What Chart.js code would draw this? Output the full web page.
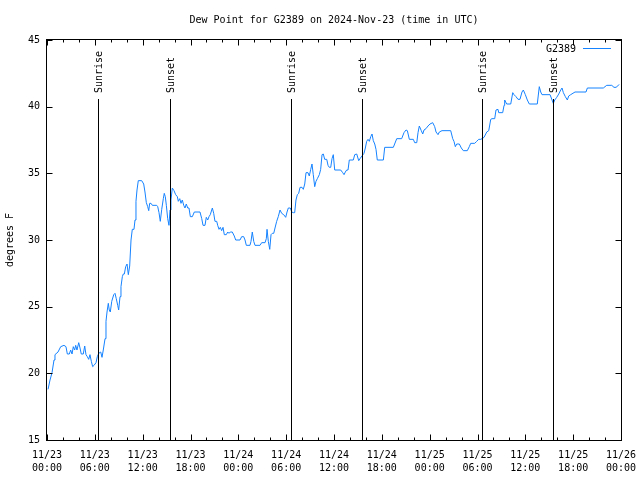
<!DOCTYPE html>
<html>
<head>
<meta charset="utf-8">
<script src="https://cdn.jsdelivr.net/npm/chart.js@4.4.1/dist/chart.umd.min.js"></script>
<style>
html,body{margin:0;padding:0;background:#fff;}
#wrap{width:640px;height:480px;}
</style>
</head>
<body>
<div id="wrap"><canvas id="c" width="640" height="480"></canvas></div>
<script>
// Hours since 2024-11-23 00:00 UTC
const hours = [0.13,0.38,0.63,0.88,1.00,1.38,1.72,2.13,2.38,2.55,2.80,2.97,3.14,3.30,3.47,3.60,3.76,3.98,4.14,4.30,4.55,4.73,4.89,5.06,5.23,5.39,5.56,5.73,5.90,6.15,6.31,6.49,6.74,6.90,7.06,7.28,7.40,7.53,7.69,7.81,7.94,8.12,8.37,8.53,8.69,8.87,8.99,9.16,9.28,9.45,9.57,9.70,9.87,10.04,10.20,10.37,10.54,10.70,10.91,11.04,11.16,11.29,11.45,11.88,12.13,12.29,12.46,12.63,12.76,12.88,13.05,13.21,13.76,13.89,14.05,14.21,14.39,14.59,14.71,14.84,14.97,15.14,15.30,15.43,15.55,15.72,15.93,16.14,16.35,16.47,16.65,16.81,16.97,17.15,17.31,17.47,17.65,17.81,17.98,18.23,18.48,19.19,19.41,19.57,19.82,19.98,20.16,20.32,20.48,20.74,20.91,21.07,21.29,21.41,21.58,21.74,21.91,22.08,22.24,22.49,22.67,22.83,22.99,23.24,23.49,23.67,24.21,24.42,24.67,24.84,25.00,25.46,25.59,25.75,25.93,26.09,26.72,26.93,27.35,27.51,27.60,27.76,27.94,28.10,28.26,28.44,28.60,28.81,29.01,29.23,29.44,29.69,29.94,30.11,30.27,30.52,30.70,30.90,31.07,31.23,31.40,31.57,31.74,31.99,32.15,32.33,32.49,32.74,32.90,33.08,33.24,33.40,33.58,33.74,33.91,34.16,34.33,34.50,34.66,34.83,35.09,35.25,35.41,35.59,35.75,35.91,36.09,36.84,37.09,37.26,37.42,37.59,37.76,37.92,38.42,38.60,38.85,39.10,39.26,39.51,39.76,39.93,40.10,40.27,40.43,40.61,40.77,40.93,41.11,41.27,41.43,42.19,42.36,43.44,43.87,44.49,44.78,45.03,45.20,45.45,45.95,46.12,46.38,46.54,46.70,46.95,47.13,47.29,47.54,47.79,48.04,48.38,48.63,48.80,49.05,49.21,49.55,50.64,50.89,51.05,51.22,51.39,51.72,51.97,52.22,52.72,52.97,53.15,53.65,53.90,54.15,54.40,54.57,54.82,55.16,55.41,55.66,55.82,56.16,56.32,56.57,56.66,57.16,57.33,57.41,57.66,58.17,58.42,58.58,58.83,59.08,59.33,59.58,59.75,60.00,60.25,60.50,61.50,61.75,61.93,62.09,63.10,63.35,63.51,63.69,63.94,64.19,64.44,64.60,64.77,65.02,65.27,65.44,65.69,66.23,67.61,67.78,69.78,70.21,70.84,71.12,71.38,71.66,71.79];
const dewF = [18.8,19.5,20.05,21.0,21.4,21.6,22.0,22.1,22.0,21.45,21.45,21.75,21.45,22.0,21.75,22.1,21.75,22.3,21.9,21.45,21.45,22.05,21.4,21.25,21.05,21.4,20.9,20.5,20.6,20.8,21.25,21.5,21.6,21.2,21.75,22.6,23.9,24.6,25.25,24.75,24.6,25.4,25.9,26.0,25.6,25.1,24.75,25.75,26.5,27.25,27.45,27.45,28.0,28.2,27.4,28.05,30.0,30.8,30.8,31.5,32.9,33.75,34.45,34.45,34.2,33.6,32.8,32.5,32.2,32.75,32.75,32.6,32.6,32.5,32.05,31.4,32.3,33.1,33.5,33.25,32.6,31.6,31.1,32.25,33.0,33.9,33.7,33.4,33.25,32.9,33.1,32.75,33.0,32.6,32.4,32.7,32.4,32.4,31.75,31.75,32.1,32.1,31.6,31.1,31.1,31.7,31.5,31.75,31.9,32.4,32.0,31.4,31.4,31.1,30.8,30.95,30.7,30.95,30.4,30.4,30.6,30.5,30.6,30.6,30.3,30.0,30.0,30.25,30.25,30.0,29.6,29.6,29.9,30.6,29.9,29.6,29.6,29.8,29.8,30.1,30.8,29.9,29.3,30.4,30.5,30.5,30.9,31.4,31.75,32.25,32.0,31.9,31.7,32.1,32.4,32.4,32.1,32.05,32.05,33.0,33.4,33.5,33.95,33.95,33.8,34.2,35.05,35.05,34.8,35.3,35.7,34.9,34.0,34.4,34.6,34.9,35.3,36.4,36.45,36.05,36.05,35.6,35.45,35.45,36.1,36.4,35.25,35.25,35.05,34.9,35.1,35.25,35.25,36.0,36.0,36.4,36.45,35.95,36.1,36.3,36.5,36.9,37.4,37.55,37.4,37.75,37.95,37.45,37.2,36.8,36.0,36.0,36.95,36.95,37.6,37.6,38.05,38.25,38.2,37.55,37.55,37.3,37.3,38.05,38.55,38.2,37.95,38.25,38.35,38.55,38.7,38.8,38.5,38.1,37.9,38.1,38.2,38.2,37.6,37.4,37.0,37.2,37.2,36.9,36.7,36.7,37.0,37.25,37.25,37.4,37.55,37.55,37.6,37.7,38.1,38.2,39.05,39.1,39.1,39.75,39.8,39.55,39.55,40.1,40.5,40.2,40.2,41.05,40.9,40.75,40.55,40.55,41.1,41.25,40.9,40.5,40.2,40.2,41.5,41.1,40.9,40.9,40.5,40.25,40.5,40.7,40.95,41.25,41.4,41.05,40.75,40.5,40.8,40.9,41.1,41.1,41.4,41.4,41.6,41.6,41.45,41.45,41.6,41.65];

const eventHours = [6.44, 15.49, 30.55, 39.55, 54.57, 63.51];
const eventLabels = ["Sunrise","Sunset","Sunrise","Sunset","Sunrise","Sunset"];

const xMin = 0, xMax = 72, xMajorStep = 6, xMinorStep = 2;
const yMin = 15, yMax = 45, yStep = 5;
const startDay = 23, monthNum = 11;

const titleText = "Dew Point for G2389 on 2024-Nov-23 (time in UTC)";
const yAxisTitle = "degrees F";
const seriesName = "G2389";
const lineColor = "#1582ff";
const FONT = "DejaVu Sans Mono";

function pad2(n){ return (n<10?'0':'')+n; }
function xLabel(v){
  const d = startDay + Math.floor(v/24);
  const h = Math.round(v % 24);
  return [pad2(monthNum)+'/'+pad2(d), pad2(h)+':00'];
}

const overlay = {
  id: 'overlay',
  afterDraw(chart){
    const {ctx, chartArea:a, scales:{x, y}} = chart;
    ctx.save();
    ctx.strokeStyle = '#000';
    ctx.lineWidth = 1;
    const L = Math.round(a.left)-0.5, R = Math.round(a.right)+0.5;
    const T = Math.round(a.top)-0.5, B = Math.round(a.bottom)+0.5;
    ctx.strokeRect(L, T, R-L, B-T);
    ctx.beginPath();
    for (let v = xMin; v <= xMax + 1e-9; v += xMinorStep){
      const px = Math.round(x.getPixelForValue(v)) + 0.5;
      const len = (Math.abs(v % xMajorStep) < 1e-9) ? 6 : 3;
      ctx.moveTo(px, B); ctx.lineTo(px, B-len);
      ctx.moveTo(px, T); ctx.lineTo(px, T+len);
    }
    for (let v = yMin; v <= yMax + 1e-9; v += yStep){
      const py = Math.round(y.getPixelForValue(v)) + 0.5;
      ctx.moveTo(L, py); ctx.lineTo(L+6, py);
      ctx.moveTo(R, py); ctx.lineTo(R-6, py);
    }
    ctx.stroke();
    ctx.fillStyle = '#000';
    ctx.font = '10px "' + FONT + '"';
    for (let i = 0; i < eventHours.length; i++){
      const px = Math.round(x.getPixelForValue(eventHours[i])) + 0.5;
      const topY = a.top + 59;
      ctx.beginPath();
      ctx.moveTo(px, B); ctx.lineTo(px, topY);
      ctx.stroke();
      ctx.save();
      ctx.translate(px + 1, topY - 6);
      ctx.rotate(-Math.PI/2);
      ctx.textAlign = 'left';
      ctx.textBaseline = 'middle';
      ctx.fillText(eventLabels[i], 0, 0);
      ctx.restore();
    }
    ctx.textAlign = 'center';
    ctx.textBaseline = 'middle';
    ctx.fillText(titleText, (a.left + a.right)/2, 20);
    ctx.save();
    ctx.translate(10, (a.top + a.bottom)/2);
    ctx.rotate(-Math.PI/2);
    ctx.fillText(yAxisTitle, 0, 0);
    ctx.restore();
    const ds = chart.data.datasets[0];
    ctx.textAlign = 'right';
    ctx.fillText(ds.label, a.right - 45, a.top + 9);
    ctx.strokeStyle = ds.borderColor;
    ctx.beginPath();
    ctx.moveTo(a.right - 38, a.top + 8.5);
    ctx.lineTo(a.right - 10, a.top + 8.5);
    ctx.stroke();
    ctx.restore();
  }
};

const pts = hours.map((h, i) => ({x: h, y: dewF[i]}));

new Chart(document.getElementById('c'), {
  type: 'line',
  data: {
    datasets: [{
      label: seriesName,
      data: pts,
      borderColor: lineColor,
      borderWidth: 1,
      pointRadius: 0,
      tension: 0,
      fill: false
    }]
  },
  options: {
    responsive: false,
    animation: false,
    devicePixelRatio: 1,
    layout: { padding: { left: 0, right: 19, top: 40, bottom: 0 } },
    plugins: { legend: { display: false }, title: { display: false }, tooltip: { enabled: false } },
    scales: {
      x: {
        type: 'linear',
        min: xMin, max: xMax,
        afterFit(s){ s.height = 40; s.paddingLeft = 0; s.paddingRight = 0; },
        grid: { display: false, drawTicks: false },
        border: { display: false },
        ticks: {
          stepSize: xMajorStep,
          autoSkip: false,
          maxRotation: 0,
          padding: 9,
          color: '#000',
          font: { family: FONT, size: 10, lineHeight: 1.3 },
          callback: (v) => xLabel(v)
        }
      },
      y: {
        min: yMin, max: yMax,
        afterFit(s){ s.width = 47; s.paddingTop = 0; s.paddingBottom = 0; },
        grid: { display: false, drawTicks: false },
        border: { display: false },
        ticks: {
          stepSize: yStep,
          padding: 7,
          color: '#000',
          font: { family: FONT, size: 10 }
        }
      }
    }
  },
  plugins: [overlay]
});
</script>
</body>
</html>
